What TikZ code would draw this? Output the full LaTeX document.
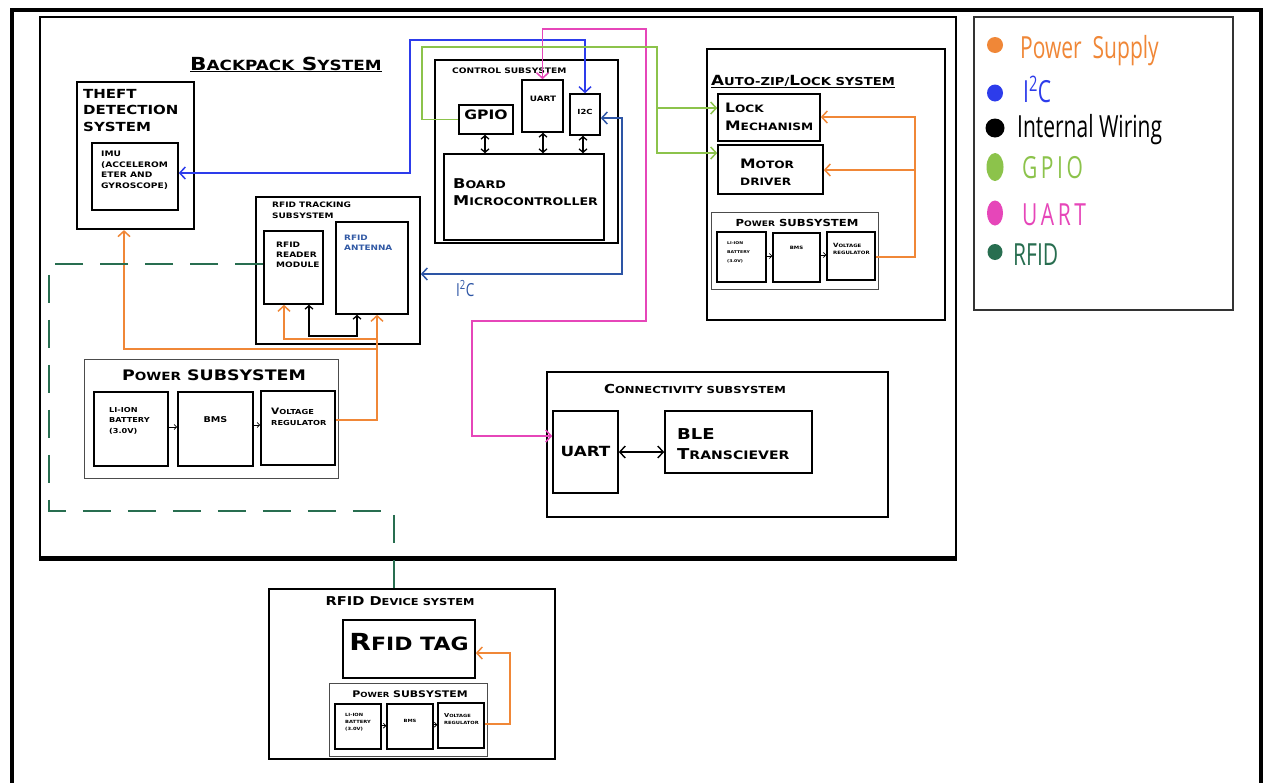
\documentclass[tikz,border=0pt]{standalone}
\usepackage{fontspec}
\usepackage{graphicx}
\usepackage{xcolor}
\usepackage{tikz}
\usetikzlibrary{arrows.meta,positioning,fit,calc}
\newfontfamily\cpf{DejaVu Sans}[FakeStretch=1.2]
\newfontfamily\hand{Open Sans}
\newcommand{\sk}[1]{\scalebox{0.78}{#1}}
\definecolor{pwr}{RGB}{240,135,55}
\definecolor{iic}{RGB}{45,60,235}
\definecolor{iicdark}{RGB}{45,85,165}
\definecolor{gpio}{RGB}{140,195,75}
\definecolor{uart}{RGB}{230,70,185}
\definecolor{rfid}{RGB}{40,110,80}
\definecolor{antblue}{RGB}{50,90,165}

\begin{document}
\begin{tikzpicture}[x=1pt, y=-1pt,
  >={Straight Barb[length=5.5pt,width=12pt]},
  box/.style={draw, line width=1.6pt, inner sep=0pt},
  thin/.style={draw=black!70, line width=0.9pt, inner sep=0pt},
  txt/.style={inner sep=0pt, align=left, anchor=north west},
  one/.style={inner sep=0pt, anchor=base},
  cpt/.style 2 args={font=\cpf\bfseries\fontsize{#1}{#2}\selectfont},
  hand/.style={font=\hand\fontsize{#1}{#1}\selectfont},
  pwrw/.style={draw=pwr, line width=1.5pt},
  iicw/.style={draw=iic, line width=1.5pt},
  iicdw/.style={draw=iicdark, line width=1.5pt},
  gpiow/.style={draw=gpio, line width=1.5pt},
  uartw/.style={draw=uart, line width=1.5pt},
  rfidw/.style={draw=rfid, line width=1.5pt, dash pattern=on 28pt off 17pt},
  blk/.style={<->, >={Straight Barb[length=3.5pt,width=8pt]}, line width=1.3pt},
  sml/.style={-{Straight Barb[length=2.5pt,width=5pt]}, line width=0.8pt}]
\useasboundingbox (0,0) rectangle (1265,782);
\fill[white] (0,0) rectangle (1265,782);

% frames
\draw[line width=4.5pt] (12,790) -- (12,10) -- (1261,10) -- (1261,790);
\node[box, line width=2.5pt, fit={(40,17) (956,557)}] (bp) {};
\draw[line width=4.5pt] (bp.south west) -- (bp.south east);
\node[cpt={18}{20}, one, anchor=base west] (bp-t) at (190,70) {\underline{B\sk{ACKPACK} S\sk{YSTEM}}};

% theft detection
\node[box, line width=2.2pt, fit={(77,82) (194,229)}] (theft) {};
\node[txt, cpt={12.5}{16.5}] (theft-t) at (83,89) {THEFT\\DETECTION\\SYSTEM};
\node[box, fit={(92,143) (178,210)}] (imu) {};
\node[txt, cpt={7.6}{10.5}] (imu-t) at (101,151) {IMU\\(ACCELEROM\\ETER AND\\GYROSCOPE)};

% control subsystem
\node[box, fit={(435,60) (618,243)}] (ctrl) {};
\node[cpt={7.6}{9}, one, anchor=base west] (ctrl-t) at (452,73) {CONTROL SUBSYSTEM};
\node[box, fit={(459,105) (513,134)}, cpt={13}{15}] (gpio) {GPIO};
\node[box, fit={(522,80) (563,132)}] (uartc) {};
\node[cpt={7.4}{9}, one] (uartc-t) at (543,101.7) {UART};
\node[box, fit={(570,94) (600,135)}, cpt={7}{9}] (i2c) {I2C};
\node[box, fit={(444,154) (604,240)}] (board) {};
\node[txt, cpt={13.5}{17}] (board-t) at (453,178) {B\sk{OARD}\\M\sk{ICROCONTROLLER}};
\foreach \n/\x in {gpio/485, uartc/543, i2c/583}
  \draw[blk] (\n.south -| \x,0) -- (board.north -| \x,0);

% rfid tracking
\node[box, fit={(256,197) (420,344)}] (rfidtrk) {};
\node[txt, cpt={7.5}{10.4}] (rfidtrk-t) at (272,202) {RFID TRACKING\\SUBSYSTEM};
\node[box, fit={(264,231) (323,304)}] (rdr) {};
\node[txt, cpt={7.5}{10.3}] (rdr-t) at (276,241.5) {RFID\\READER\\MODULE};
\node[box, fit={(336,222) (408,314)}] (ant) {};
\node[txt, cpt={7.4}{10}, text=antblue] (ant-t) at (344,235) {RFID\\ANTENNA};
\draw[blk] (rdr.south -| 309,0) |- (357,336) -- (ant.south -| 357,0);

% power subsystem (backpack)
\node[thin, fit={(84,359) (338,478)}] (pwrl) {};
\node[cpt={14.5}{16}, one] (pwrl-t) at (214,380) {P\sk{OWER} SUBSYSTEM};
\node[box, fit={(94,392) (168,466)}] (batl) {};
\node[txt, cpt={6.8}{10.5}] (batl-t) at (109,407) {LI-ION\\BATTERY\\(3.0V)};
\node[box, fit={(178,392) (253,466)}] (bmsl) {};
\node[cpt={8}{9}, one] (bmsl-t) at (215.5,422) {BMS};
\node[box, fit={(261,391) (335,465)}] (vrl) {};
\node[txt, cpt={8.8}{11}] (vrl-t) at (271,407.5) {V\sk{OLTAGE}\\\sk{REGULATOR}};
\draw[sml] (batl.east |- 0,427) -- (bmsl.west |- 0,427);
\draw[sml] (bmsl.east |- 0,425) -- (vrl.west |- 0,425);

% auto-zip / lock
\node[box, fit={(707,49) (945,320)}] (azl) {};
\node[cpt={14}{16}, one, anchor=base west] (azl-t) at (711,85) {\underline{A\sk{UTO-ZIP/}L\sk{OCK SYSTEM}}};
\node[box, fit={(718,94) (820,141)}] (lock) {};
\node[txt, cpt={13}{17.6}] (lock-t) at (725,103) {L\sk{OCK}\\M\sk{ECHANISM}};
\node[box, fit={(718,145) (823,194)}] (motor) {};
\node[txt, cpt={13}{16.7}] (motor-t) at (740,159) {M\sk{OTOR}\\\sk{DRIVER}};
\node[thin, fit={(711,212) (878,289)}] (pwrr) {};
\node[cpt={9.7}{11}, one] (pwrr-t) at (797,226) {P\sk{OWER} SUBSYSTEM};
\node[box, line width=1.2pt, fit={(717,232) (766,282)}] (batr) {};
\node[txt, cpt={3.8}{9}] (batr-t) at (727,241) {LI-ION\\BATTERY\\(3.0V)};
\node[box, line width=1.2pt, fit={(773,233) (820,282)}] (bmsr) {};
\node[cpt={4.5}{5}, one] (bmsr-t) at (796.5,249) {BMS};
\node[box, line width=1.2pt, fit={(827,232) (875,280)}] (vrr) {};
\node[txt, cpt={5.8}{7.3}] (vrr-t) at (833,243) {V\sk{OLTAGE}\\\sk{REGULATOR}};
\draw[sml] (batr.east |- 0,256) -- (bmsr.west |- 0,256);
\draw[sml] (bmsr.east |- 0,255) -- (vrr.west |- 0,255);

% connectivity
\node[box, fit={(547,372) (888,517)}] (conn) {};
\node[cpt={12.4}{14}, one] (conn-t) at (695,393) {C\sk{ONNECTIVITY SUBSYSTEM}};
\node[box, fit={(553,411) (618,493)}] (uartb) {};
\node[cpt={14}{16}, one] (uartb-t) at (585.5,456.7) {UART};
\node[box, fit={(665,411) (812,473)}] (ble) {};
\node[txt, cpt={15}{20.7}] (ble-t) at (677,428) {BLE\\T\sk{RANSCIEVER}};
\draw[<->, line width=1.4pt] (uartb.east |- 0,452) -- (ble.west |- 0,452);

% rfid device
\node[box, fit={(269,589) (555,759)}] (dev) {};
\node[cpt={12.2}{14}, one] (dev-t) at (400,605) {RFID D\sk{EVICE SYSTEM}};
\node[box, fit={(343,620) (475,678)}] (tag) {};
\node[cpt={23.5}{26}, one] (tag-t) at (409,650) {R\sk{FID TAG}};
\node[thin, fit={(329,683) (487,756)}] (pwrd) {};
\node[cpt={9.1}{11}, one] (pwrd-t) at (410,697) {P\sk{OWER} SUBSYSTEM};
\node[box, line width=1.2pt, fit={(335,704) (381,749)}] (batd) {};
\node[txt, cpt={4.3}{6.9}] (batd-t) at (345,713.5) {LI-ION\\BATTERY\\(3.0V)};
\node[box, line width=1.2pt, fit={(387,704) (433,749)}] (bmsd) {};
\node[cpt={4.3}{5}, one] (bmsd-t) at (410,722.7) {BMS};
\node[box, line width=1.2pt, fit={(438,703) (484,748)}] (vrd) {};
\node[txt, cpt={5.5}{6.6}] (vrd-t) at (444,713.5) {V\sk{OLTAGE}\\\sk{REGULATOR}};
\draw[sml] (batd.east |- 0,725.7) -- (bmsd.west |- 0,725.7);
\draw[sml] (bmsd.east |- 0,724.7) -- (vrd.west |- 0,724.7);

% buses
\draw[iicw, <->] (imu.east |- 0,173) -| (410,40) -| (i2c.north);
\draw[uartw, <->] (uartc.north) |- (646,29) |- (472,321) |- ([yshift=16pt]uartb.west);
\draw[gpiow, ->] (gpio.west) -| (422,47) -| (657,153) -- (motor.west |- 0,153);
\draw[gpiow, ->] (657,108) -- (lock.west |- 0,108);
\draw[iicdw, <->] (i2c.east |- 0,118) -| (622,274) -- (rfidtrk.east |- 0,274);
\node[hand=15, text=iicdark, one, anchor=base west] (iic-t) at (456,296) {\scalebox{0.9}[1.2]{I\textsuperscript{2}C}};
\draw[pwrw, ->] (vrl.east |- 0,420) -| (ant.south -| 377,0);
\draw[pwrw, ->] (377,339) -| (rdr.south -| 284,0);
\draw[pwrw, ->] (377,349) -| (theft.south -| 124,0);
\draw[pwrw, ->] (vrr.east |- 0,257) -| (915,117) -- (lock.east |- 0,117);
\draw[pwrw, ->] (915,170) -- (motor.east |- 0,170);
\draw[pwrw, ->] (vrd.east |- 0,724) -| (510,653) -- (tag.east |- 0,653);
\draw[rfidw] (rdr.west |- 0,264) -| (49,511) -| (dev.north -| 394,0);

% legend
\node[draw=black!80, line width=1.2pt, inner sep=0pt, fit={(974,17) (1233,310)}] (legend) {};
\foreach \c/\yd/\rx/\ry/\yb/\xt/\t [count=\i] in
  {pwr/45/8/8/58/1020/{Power\ \ Supply}, iic/93/8/8.5/102/1023/{I\textsuperscript{2}C},
   black/128/9.5/9.5/137/1017/{Internal Wiring}, gpio/167/8.5/14/178/1022/{G\,P\,I\,O},
   uart/213/8/12.5/225/1022/{U\,A\,R\,T}, rfid/252/7.5/8/265/1013/RFID}
{
  \fill[\c] (995,\yd) ellipse [x radius=\rx pt, y radius=\ry pt];
  \node[hand=21, text=\c, one, anchor=base west] (lg\i) at (\xt,\yb) {\scalebox{1}[1.45]{\t}};
}
\end{tikzpicture}
\end{document}
